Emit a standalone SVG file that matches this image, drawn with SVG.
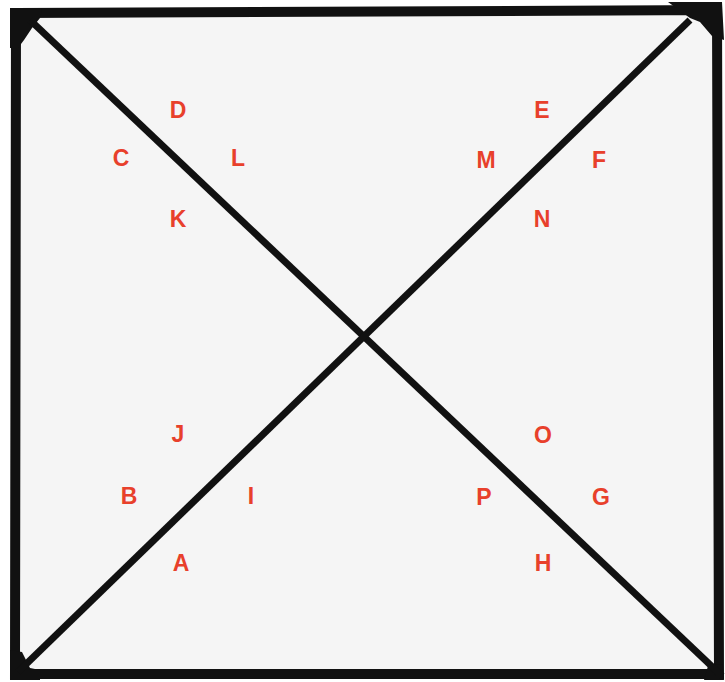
<svg xmlns="http://www.w3.org/2000/svg" width="725" height="682" viewBox="0 0 725 682">
  <style>
    .lbl { font-family: "Liberation Sans", Arial, sans-serif; font-weight: bold; font-size: 23px; fill: #e8402b; text-anchor: middle; }
    .frame { fill: #f5f5f5; stroke: #111; stroke-width: 10; stroke-linejoin: miter; }
    .diag { stroke: #111; stroke-width: 7; stroke-linecap: butt; fill: none; }
    .blob { fill: #111; }
  </style>
  <rect x="0" y="0" width="725" height="682" fill="#ffffff"/>
  <g id="frame">
    <polygon class="frame" points="16,13 717,10 719,674 15,674"/>
    <polygon class="blob" points="10,8 42,8 40,18 32,28 24,40 18,48 10,48"/>
    <polygon class="blob" points="668,2 722,2 724,40 712,36 700,22 690,18"/>
    <polygon class="blob" points="10,650 22,652 30,668 40,670 40,680 10,680"/>
    <polygon class="blob" points="708,666 722,664 724,680 704,680"/>
  </g>
  <g id="connectors">
    <line class="diag" x1="30" y1="20" x2="722" y2="676"/>
    <line class="diag" x1="18" y1="672" x2="690" y2="20"/>
  </g>
  <g id="labels">
    <g id="node-D"><text class="lbl" x="178" y="118">D</text></g>
    <g id="node-E"><text class="lbl" x="542" y="118">E</text></g>
    <g id="node-C"><text class="lbl" x="121" y="166">C</text></g>
    <g id="node-L"><text class="lbl" x="238" y="166">L</text></g>
    <g id="node-M"><text class="lbl" x="486" y="168">M</text></g>
    <g id="node-F"><text class="lbl" x="599" y="168">F</text></g>
    <g id="node-K"><text class="lbl" x="178" y="227">K</text></g>
    <g id="node-N"><text class="lbl" x="542" y="227">N</text></g>
    <g id="node-J"><text class="lbl" x="178" y="442">J</text></g>
    <g id="node-O"><text class="lbl" x="543" y="443">O</text></g>
    <g id="node-B"><text class="lbl" x="129" y="504">B</text></g>
    <g id="node-I"><text class="lbl" x="251" y="504">I</text></g>
    <g id="node-P"><text class="lbl" x="484" y="505">P</text></g>
    <g id="node-G"><text class="lbl" x="601" y="505">G</text></g>
    <g id="node-A"><text class="lbl" x="181" y="571">A</text></g>
    <g id="node-H"><text class="lbl" x="543" y="571">H</text></g>
  </g>
</svg>
